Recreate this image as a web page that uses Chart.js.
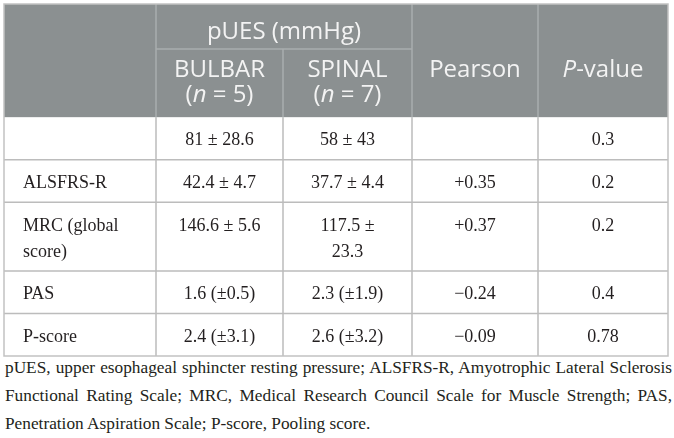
<!DOCTYPE html>
<html>
<head>
<meta charset="utf-8">
<script src="https://cdn.jsdelivr.net/npm/chart.js@4.4.1/dist/chart.umd.min.js"></script>
<style>
  html, body { margin: 0; background: #fff; }
  #wrap { position: relative; width: 674px; height: 358px; }
  #note {
    margin: -4px 0 0 5px;
    width: 667px;
    font: 17.3px/28px "Liberation Serif", serif;
    color: #231f20;
    text-align: justify;
  }
</style>
</head>
<body>
<div id="wrap"><canvas id="table1"></canvas></div>
<p id="note">pUES, upper esophageal sphincter resting pressure; ALSFRS-R, Amyotrophic Lateral Sclerosis Functional Rating Scale; MRC, Medical Research Council Scale for Muscle Strength; PAS, Penetration Aspiration Scale; P-score, Pooling score.</p>
<script>
// table content
const groupTitle = 'pUES (mmHg)';
const groups = ['BULBAR', 'SPINAL'];
const groupN = [5, 7];
const statHeaders = ['Pearson', '_P_-value'];

const rowLabels = ['', 'ALSFRS-R', 'MRC (global score)', 'PAS', 'P-score'];
const bulbar = ['81 ± 28.6', '42.4 ± 4.7', '146.6 ± 5.6', '1.6 (±0.5)', '2.4 (±3.1)'];
const spinal = ['58 ± 43', '37.7 ± 4.4', '117.5 ± 23.3', '2.3 (±1.9)', '2.6 (±3.2)'];
const pearson = ['', '+0.35', '+0.37', '\u22120.24', '\u22120.09'];
const pValues = ['0.3', '0.2', '0.2', '0.4', '0.78'];

// layout (table units = px inside the plot area)
const colEdges = [0, 152, 279, 408, 534, 664];
const headerMid = 45, headerH = 113;
const padX = 21, lineH = 26;
const bodyFont = '18px "Liberation Serif", serif';
const headFont = '24px "Open Sans", sans-serif';
const headItalic = 'italic 24px "Open Sans", sans-serif';
const textCol = '#231f20';

const columnsData = [rowLabels, bulbar, spinal, pearson, pValues];

function wrap(ctx, text, maxW) {
  if (!text) return [''];
  const words = text.split(' ');
  const out = [];
  let cur = '';
  for (const w of words) {
    const t = cur ? cur + ' ' + w : w;
    if (cur && ctx.measureText(t).width > maxW) { out.push(cur); cur = w; }
    else cur = t;
  }
  out.push(cur);
  return out;
}

// pre-measure rows to get the row heights
const mctx = document.createElement('canvas').getContext('2d');
mctx.font = bodyFont;
const cellLines = rowLabels.map((_, r) => columnsData.map((col, c) =>
  wrap(mctx, col[r], colEdges[c + 1] - colEdges[c] - 2 * padX)));
const rowEdges = [headerH];
cellLines.forEach(lines => {
  const n = Math.max(...lines.map(l => l.length));
  rowEdges.push(rowEdges[rowEdges.length - 1] + 16.5 + lineH * n);
});
const tableH = rowEdges[rowEdges.length - 1];

function drawRuns(ctx, str, cx, cy, font, italic) {
  const parts = str.split('_');
  let total = 0;
  parts.forEach((p, i) => { ctx.font = i % 2 ? italic : font; total += ctx.measureText(p).width; });
  let xPos = cx - total / 2;
  ctx.textAlign = 'left';
  parts.forEach((p, i) => {
    ctx.font = i % 2 ? italic : font;
    ctx.fillText(p, xPos, cy);
    xPos += ctx.measureText(p).width;
  });
}

const tablePlugin = {
  id: 'tablePlugin',
  afterDraw(chart) {
    const ctx = chart.ctx;
    const xs = chart.scales.x, ys = chart.scales.y;
    const px = v => xs.getPixelForValue(v);
    const py = v => ys.getPixelForValue(v);
    const L = px(0), R = px(664), T = py(0), B = py(tableH);
    ctx.save();

    // header background
    ctx.fillStyle = '#8b9091';
    ctx.fillRect(L, T, R - L, py(headerH) - T);

    // body grid
    ctx.strokeStyle = '#bcbcbc';
    ctx.lineWidth = 1.5;
    ctx.beginPath();
    rowEdges.slice(1, -1).forEach(e => { ctx.moveTo(L, py(e)); ctx.lineTo(R, py(e)); });
    colEdges.slice(1, -1).forEach(e => { ctx.moveTo(px(e), py(headerH)); ctx.lineTo(px(e), B); });
    ctx.stroke();

    // header grid
    ctx.strokeStyle = '#a9adae';
    ctx.beginPath();
    ctx.moveTo(px(colEdges[1]), T); ctx.lineTo(px(colEdges[1]), py(headerH));
    ctx.moveTo(px(colEdges[3]), T); ctx.lineTo(px(colEdges[3]), py(headerH));
    ctx.moveTo(px(colEdges[4]), T); ctx.lineTo(px(colEdges[4]), py(headerH));
    ctx.moveTo(px(colEdges[2]), py(headerMid)); ctx.lineTo(px(colEdges[2]), py(headerH));
    ctx.moveTo(px(colEdges[1]), py(headerMid)); ctx.lineTo(px(colEdges[3]), py(headerMid));
    ctx.stroke();

    // outer border
    ctx.strokeStyle = '#c2c2c2';
    ctx.strokeRect(L, T, R - L, B - T);

    // header text
    ctx.fillStyle = '#f3f3f3';
    ctx.textBaseline = 'middle';
    drawRuns(ctx, groupTitle, px((colEdges[1] + colEdges[3]) / 2), py(28), headFont, headItalic);
    groups.forEach((g, i) => {
      const cx = px((colEdges[i + 1] + colEdges[i + 2]) / 2);
      drawRuns(ctx, g, cx, py(66), headFont, headItalic);
      drawRuns(ctx, '(_n_ = ' + groupN[i] + ')', cx, py(91), headFont, headItalic);
    });
    statHeaders.forEach((h, i) => {
      drawRuns(ctx, h, px((colEdges[i + 3] + colEdges[i + 4]) / 2), py(66), headFont, headItalic);
    });

    // body text
    ctx.fillStyle = textCol;
    ctx.font = bodyFont;
    cellLines.forEach((cols, r) => {
      cols.forEach((lines, c) => {
        lines.forEach((ln, k) => {
          const yy = py(rowEdges[r] + 23.5 + k * lineH);
          if (c === 0) {
            ctx.textAlign = 'left';
            ctx.fillText(ln, px(colEdges[0] + 19), yy);
          } else {
            ctx.textAlign = 'center';
            ctx.fillText(ln, px((colEdges[c] + colEdges[c + 1]) / 2), yy);
          }
        });
      });
    });
    ctx.restore();
  }
};

new Chart(document.getElementById('table1'), {
  type: 'scatter',
  data: { datasets: [{ data: [], pointRadius: 0 }] },
  options: {
    responsive: true,
    maintainAspectRatio: false,
    animation: false,
    events: [],
    layout: { padding: { left: 4, right: 6, top: 4, bottom: 2 } },
    plugins: { legend: { display: false }, tooltip: { enabled: false } },
    scales: {
      x: { type: 'linear', min: 0, max: 664, display: false },
      y: { type: 'linear', min: 0, max: tableH, reverse: true, display: false }
    }
  },
  plugins: [tablePlugin]
});
</script>
</body>
</html>
